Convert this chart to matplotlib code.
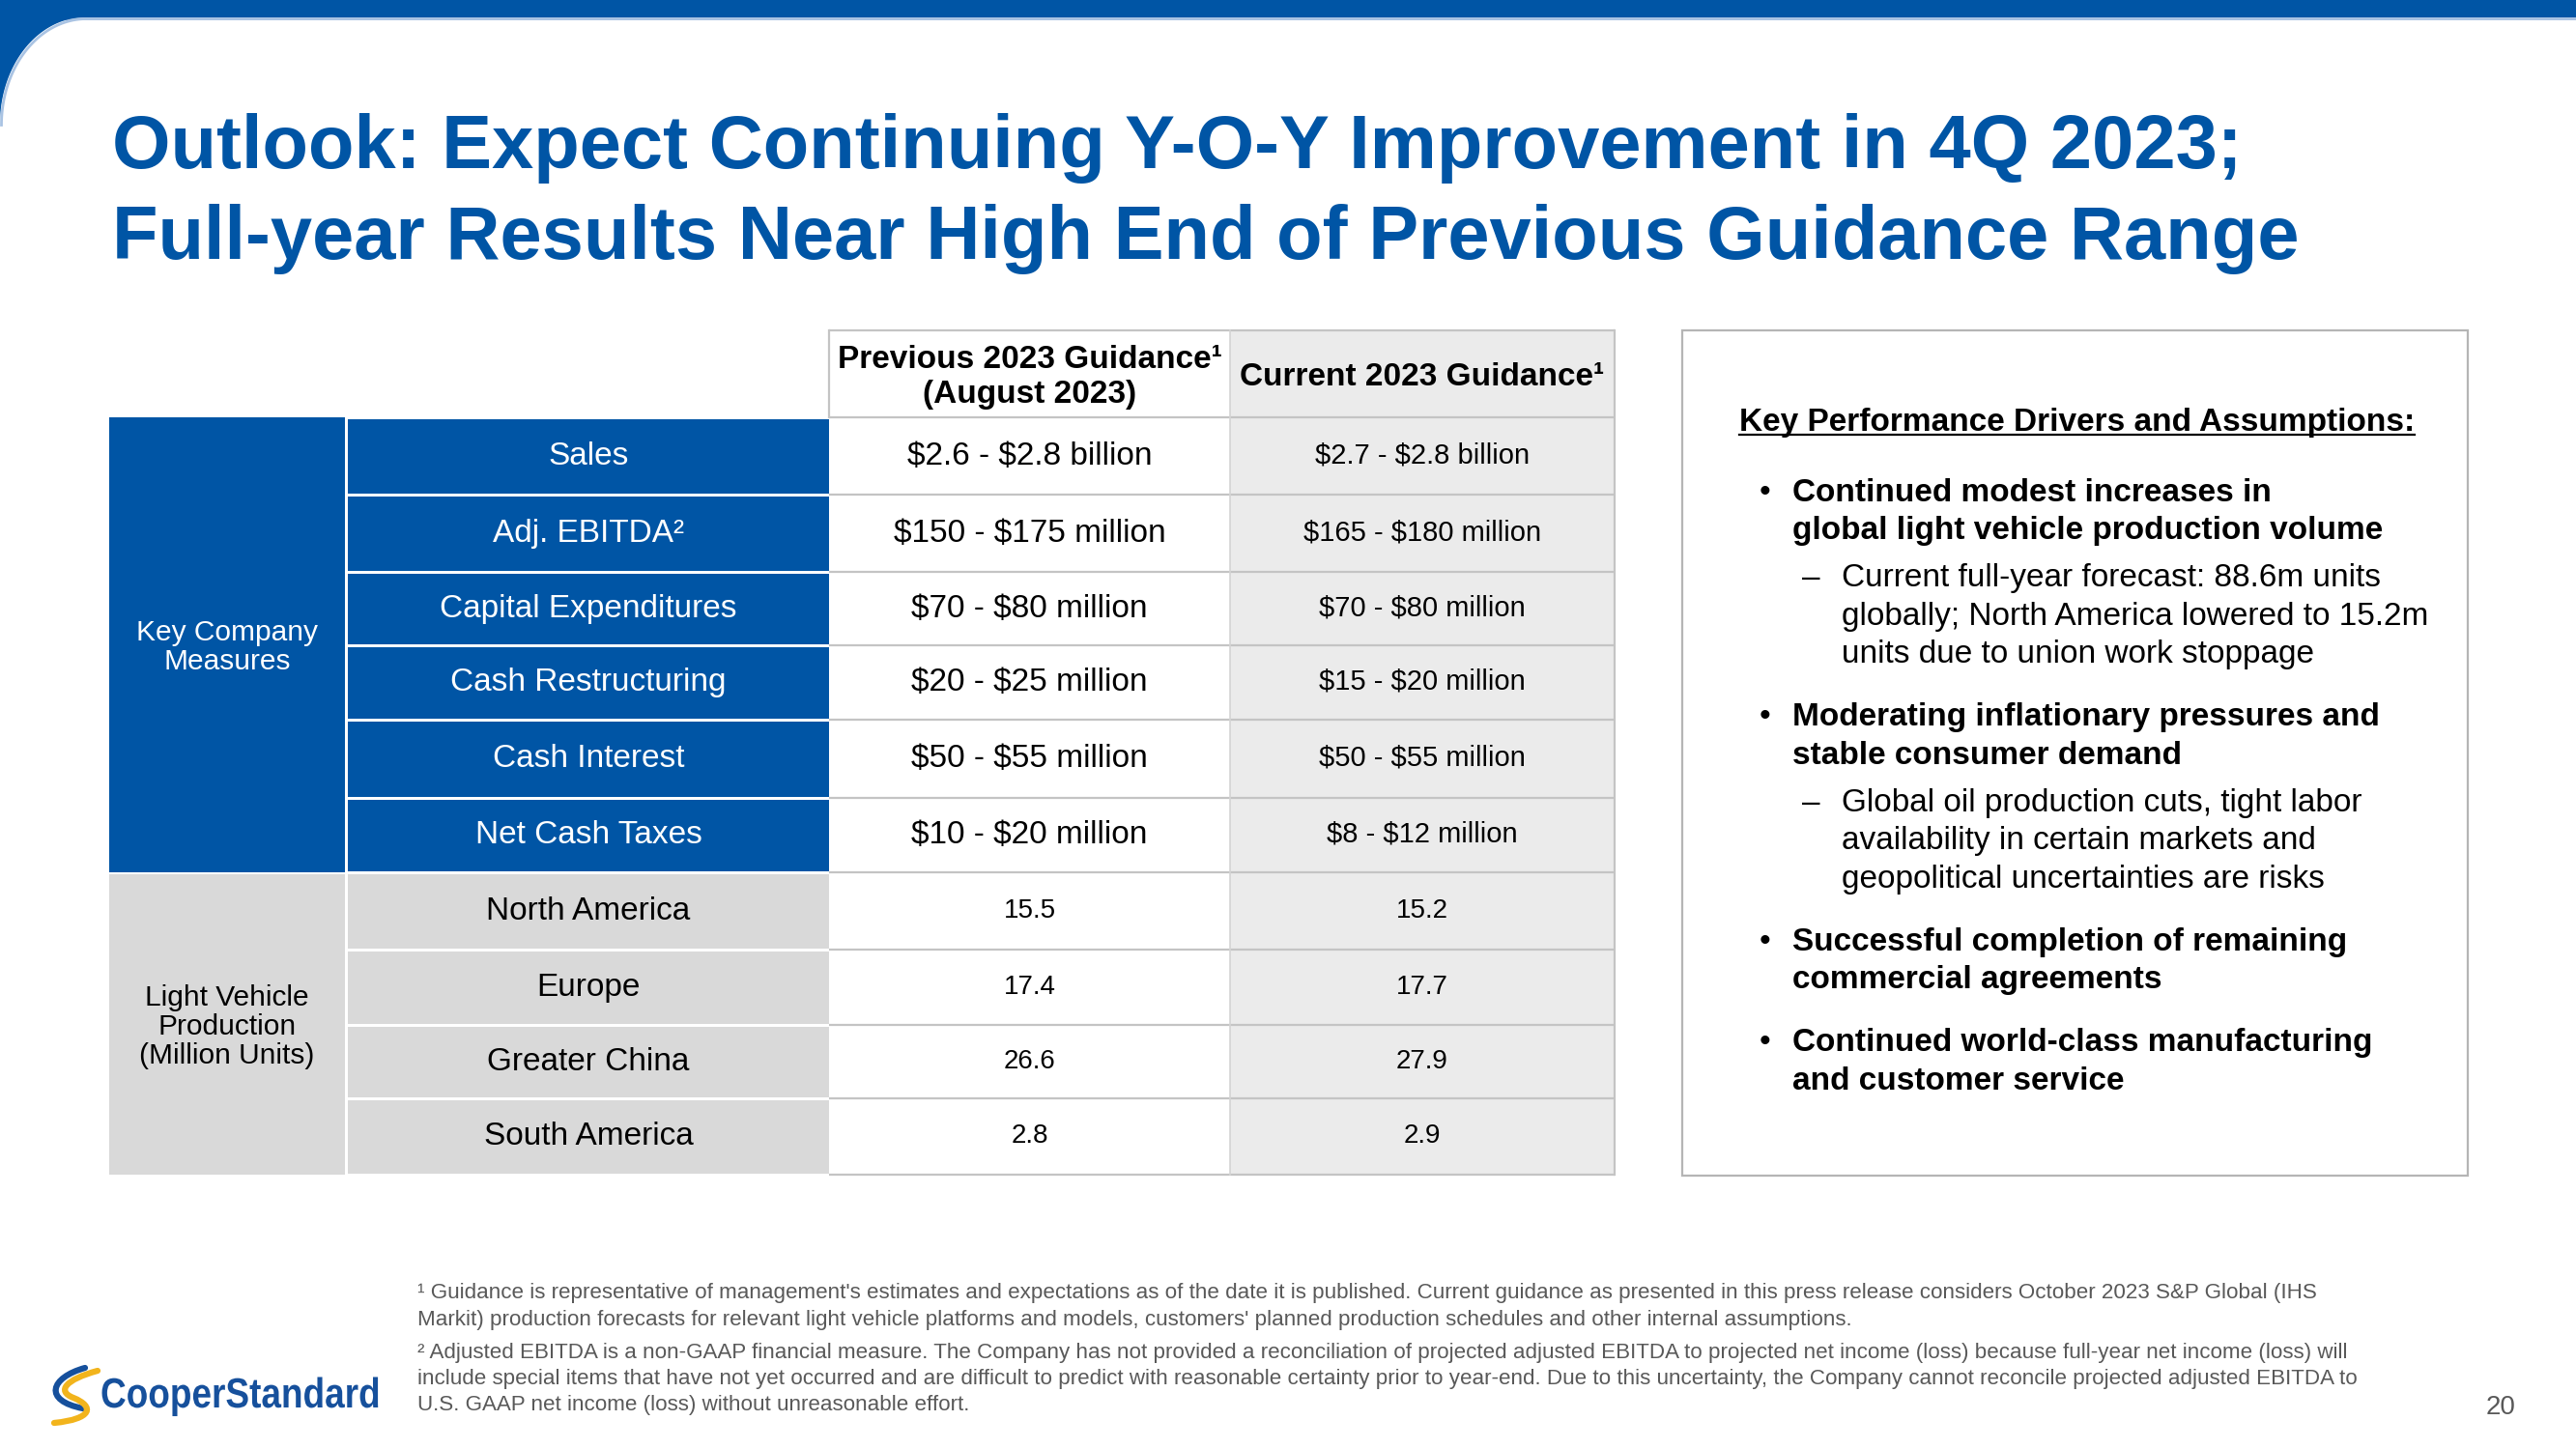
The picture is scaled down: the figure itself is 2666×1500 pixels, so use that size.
import numpy as np
import matplotlib
matplotlib.use("Agg")
import matplotlib.pyplot as plt
from matplotlib.patches import Rectangle, PathPatch, Polygon
from matplotlib.path import Path
from matplotlib.textpath import TextPath
from matplotlib.font_manager import FontProperties
from matplotlib.transforms import Affine2D

plt.rcParams['font.family'] = ['Liberation Sans', 'DejaVu Sans']
plt.rcParams['text.parse_math'] = False

BLUE = '#0055a5'
GRAY_CELL = '#d9d9d9'
GRAY_COL = '#ebebeb'
LINE = '#c4c4c4'
FOOT = '#595959'

# ---- data ----
title_lines = ["Outlook: Expect Continuing Y-O-Y Improvement in 4Q 2023;",
               "Full-year Results Near High End of Previous Guidance Range"]

header_prev = ["Previous 2023 Guidance\u00b9", "(August 2023)"]
header_cur = "Current 2023 Guidance\u00b9"

groups = [["Key Company", "Measures"], ["Light Vehicle", "Production", "(Million Units)"]]
group_sizes = [6, 4]

measures = ["Sales", "Adj. EBITDA\u00b2", "Capital Expenditures", "Cash Restructuring",
            "Cash Interest", "Net Cash Taxes",
            "North America", "Europe", "Greater China", "South America"]
previous = ["$2.6 - $2.8 billion", "$150 - $175 million", "$70 - $80 million",
            "$20 - $25 million", "$50 - $55 million", "$10 - $20 million",
            "15.5", "17.4", "26.6", "2.8"]
current = ["$2.7 - $2.8 billion", "$165 - $180 million", "$70 - $80 million",
           "$15 - $20 million", "$50 - $55 million", "$8 - $12 million",
           "15.2", "17.7", "27.9", "2.9"]

drivers_title = "Key Performance Drivers and Assumptions:"
drivers = [
    (["Continued modest increases in", "global light vehicle production volume"],
     ["Current full-year forecast: 88.6m units",
      "globally; North America lowered to 15.2m",
      "units due to union work stoppage"]),
    (["Moderating inflationary pressures and", "stable consumer demand"],
     ["Global oil production cuts, tight labor",
      "availability in certain markets and",
      "geopolitical uncertainties are risks"]),
    (["Successful completion of remaining", "commercial agreements"], []),
    (["Continued world-class manufacturing", "and customer service"], []),
]

footnotes = [
    "\u00b9 Guidance is representative of management's estimates and expectations as of the date it is published. Current guidance as presented in this press release considers October 2023 S&P Global (IHS",
    "Markit) production forecasts for relevant light vehicle platforms and models, customers' planned production schedules and other internal assumptions.",
    "\u00b2 Adjusted EBITDA is a non-GAAP financial measure. The Company has not provided a reconciliation of projected adjusted EBITDA to projected net income (loss) because full-year net income (loss) will",
    "include special items that have not yet occurred and are difficult to predict with reasonable certainty prior to year-end. Due to this uncertainty, the Company cannot reconcile projected adjusted EBITDA to",
    "U.S. GAAP net income (loss) without unreasonable effort.",
]
page_number = "20"

# ---- layout (pixels) ----
row_edges = [432, 512, 592, 668, 745, 826, 903, 983, 1061, 1137, 1216]
header_top = 342
gx0, gx1 = 113, 357
mx0, mx1 = 360, 858
px0, px1 = 858, 1273
cx0, cx1 = 1273, 1671


def bl(yc, pt):
    # baseline from visual centre of capitals
    return yc + 0.716 * pt / 0.72 / 2


fig = plt.figure(figsize=(26.66, 15), dpi=100)
ax = fig.add_axes([0, 0, 1, 1])
ax.set_xlim(0, 2666)
ax.set_ylim(1500, 0)
ax.axis('off')

# top bar with rounded corner
ax.add_patch(Rectangle((0, 0), 2666, 18, color=BLUE, lw=0))
ax.add_patch(Rectangle((0, 18), 2666, 3, color='#a9c3e3', lw=0))
rx, ry = 88, 110
th = np.linspace(np.pi, 1.5 * np.pi, 60)
arc = np.column_stack([rx + rx * np.cos(th), 18 + ry + ry * np.sin(th)])
ax.add_patch(Polygon(np.vstack([[[0, 18]], arc]), closed=True, color=BLUE, lw=0))
ax.plot(arc[:, 0] + 1.5, arc[:, 1] + 1.5, color='#a9c3e3', lw=2)

# title
for i, line in enumerate(title_lines):
    ax.text(116, 174 + 94 * i, line, fontsize=56, fontweight='bold', color=BLUE,
            va='baseline', ha='left')

# table backgrounds
ax.add_patch(Rectangle((cx0, header_top), cx1 - cx0, row_edges[-1] - header_top,
                       color=GRAY_COL, lw=0))
start = 0
for gi, (lines, n) in enumerate(zip(groups, group_sizes)):
    y0 = row_edges[start] + (2 if gi else 0)
    y1 = row_edges[start + n]
    col = BLUE if gi == 0 else GRAY_CELL
    tcol = 'white' if gi == 0 else 'black'
    ax.add_patch(Rectangle((gx0, y0), gx1 - gx0, y1 - y0, color=col, lw=0))
    yc = (y0 + y1) / 2
    for k, ln in enumerate(lines):
        yy = yc + (k - (len(lines) - 1) / 2) * 30
        ax.text((gx0 + gx1) / 2, bl(yy, 21.5), ln, fontsize=21.5, color=tcol,
                ha='center', va='baseline')
    start += n

for i, (m, p, c) in enumerate(zip(measures, previous, current)):
    y0, y1 = row_edges[i], row_edges[i + 1]
    yc = (y0 + y1) / 2 - 3
    kpi = i < group_sizes[0]
    ax.add_patch(Rectangle((mx0, y0 + 1.5), mx1 - mx0, y1 - y0 - 3,
                           color=BLUE if kpi else GRAY_CELL, lw=0))
    ax.text((mx0 + mx1) / 2, bl(yc, 24), m, fontsize=24,
            color='white' if kpi else 'black', ha='center', va='baseline')
    fs_p = 24 if kpi else 20
    fs_c = 21 if kpi else 20
    ax.text((px0 + px1) / 2, bl(yc, fs_p), p, fontsize=fs_p, ha='center', va='baseline')
    ax.text((cx0 + cx1) / 2, bl(yc, fs_c), c, fontsize=fs_c, ha='center', va='baseline')

# grid lines for value columns
for y in [header_top] + row_edges:
    ax.plot([px0, cx1], [y, y], color=LINE, lw=1.6, solid_capstyle='butt')
ax.plot([px0, px0], [header_top, row_edges[0]], color=LINE, lw=1.6)
ax.plot([cx0, cx0], [header_top, row_edges[-1]], color='#d4d4d4', lw=1.2)
ax.plot([cx1, cx1], [header_top, row_edges[-1]], color=LINE, lw=1.6)

# headers
hc = (header_top + row_edges[0]) / 2
for k, ln in enumerate(header_prev):
    ax.text((px0 + px1) / 2, bl(hc - 18 + 36 * k, 24), ln, fontsize=24,
            fontweight='bold', ha='center', va='baseline')
ax.text((cx0 + cx1) / 2, bl(hc, 24), header_cur, fontsize=24, fontweight='bold',
        ha='center', va='baseline')

# right box
ax.add_patch(Rectangle((1741, 342), 813, 875, fill=False, edgecolor='#b5b5b5', lw=1.6))
ht = ax.text(1800, bl(434, 24), drivers_title, fontsize=24, fontweight='bold',
             ha='left', va='baseline')
fig.canvas.draw()
ext = ht.get_window_extent()
ax.plot([ext.x0, ext.x1], [bl(434, 24) + 4, bl(434, 24) + 4], color='black', lw=1.6)

y = 507
for bold_lines, sub_lines in drivers:
    ax.text(1821, bl(y, 24), "\u2022", fontsize=24, ha='left', va='baseline')
    for ln in bold_lines:
        ax.text(1855, bl(y, 24), ln, fontsize=24, fontweight='bold', ha='left', va='baseline')
        y += 39.5
    if sub_lines:
        y += 9.5
        ax.text(1865, bl(y, 24), "\u2013", fontsize=24, ha='left', va='baseline')
        for ln in sub_lines:
            ax.text(1906, bl(y, 24), ln, fontsize=24, ha='left', va='baseline')
            y += 39.5
    y += 25.5

# footnotes
for ln, yy in zip(footnotes, [1336, 1364, 1398, 1425, 1452]):
    ax.text(432, bl(yy, 16.1), ln, fontsize=16.1, color=FOOT, ha='left', va='baseline')
ax.text(2604, bl(1454, 20), page_number, fontsize=20, color=FOOT, ha='right', va='baseline')

# logo
tp = TextPath((0, 0), "CooperStandard", size=43.5,
              prop=FontProperties(family='Liberation Sans', weight='bold'))
tp = Affine2D().scale(0.85, -1).translate(104, 1457).transform_path(tp)
ax.add_patch(PathPatch(tp, color='#16509c', lw=0))
blue_sw = Path([(88, 1416), (52, 1426), (44, 1450), (86, 1458)],
               [Path.MOVETO, Path.CURVE4, Path.CURVE4, Path.CURVE4])
ax.add_patch(PathPatch(blue_sw, fill=False, edgecolor='#16509c', lw=4.5, capstyle='round'))
yel_sw = Path([(101, 1419), (68, 1428), (58, 1440), (76, 1447),
               (98, 1456), (96, 1469), (56, 1473)],
              [Path.MOVETO, Path.CURVE4, Path.CURVE4, Path.CURVE4,
               Path.CURVE4, Path.CURVE4, Path.CURVE4])
ax.add_patch(PathPatch(yel_sw, fill=False, edgecolor='#f2b41c', lw=4.5, capstyle='round'))

fig.savefig("out.png", dpi=100)
